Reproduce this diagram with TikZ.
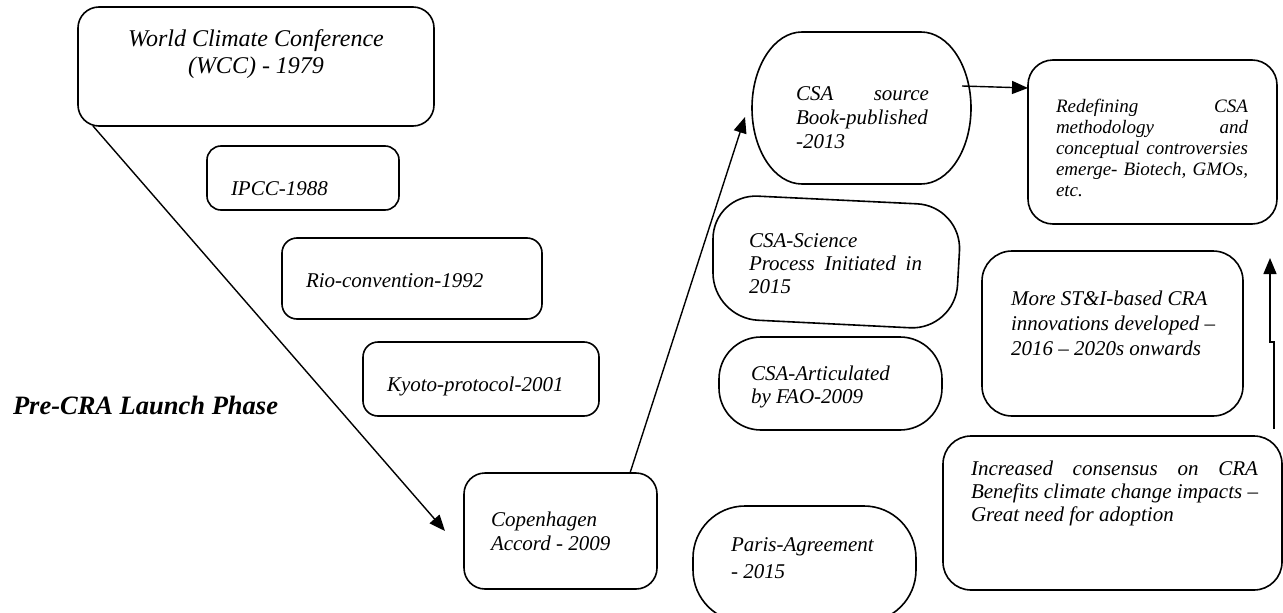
\documentclass[tikz,border=0pt]{standalone}
\usepackage{fontspec}
\setmainfont{Liberation Serif}
\usetikzlibrary{arrows.meta,calc}
\tikzset{
  boxline/.style={draw, line width=1.6pt},
  rbox/.style={boxline, rectangle, inner sep=0pt, outer sep=0pt},
  ghost/.style={rectangle, inner sep=0pt, outer sep=0pt},
  conn/.style={line width=1.4pt, -{Triangle[length=16pt,width=13pt]}},
  txt/.style={inner sep=0pt, outer sep=0pt, anchor=base west,
    font=\itshape\fontsize{21}{23}\selectfont},
}
\begin{document}
\begin{tikzpicture}[x=1pt,y=-1pt]
\useasboundingbox (0,0) rectangle (1283,613);
\clip (0,0) rectangle (1283,613);

% boxes
\node[rbox, minimum width=356pt, minimum height=119pt, rounded corners=21pt] (wcc) at (256,66.5) {};
\node[rbox, minimum width=192pt, minimum height=64pt, rounded corners=14pt] (ipcc) at (303,178) {};
\node[rbox, minimum width=260pt, minimum height=81pt, rounded corners=15pt] (rio) at (412,278.5) {};
\node[rbox, minimum width=236pt, minimum height=74pt, rounded corners=15pt] (kyoto) at (481,379) {};
\node[rbox, minimum width=193pt, minimum height=116pt, rounded corners=21pt] (cop) at (560.5,531) {};
\node[ghost, minimum width=219pt, minimum height=152pt] (src) at (861.5,108) {};
\draw[boxline] (802,32) -- (921,32) .. controls (948.6,32) and (971,66) .. (971,108)
  .. controls (971,150) and (948.6,184) .. (921,184) -- (802,184)
  .. controls (774.4,184) and (752,150) .. (752,108)
  .. controls (752,66) and (774.4,32) .. (802,32) -- cycle;
\node[rbox, minimum width=249pt, minimum height=164pt, rounded corners=25pt] (red) at (1152.5,142) {};
\node[ghost, minimum width=249pt, minimum height=130pt] (sci) at (837,262) {};
\draw[boxline, rounded corners=45pt] (838,200) -- (962,206) -- (955,330) -- (713,318) -- (713,194) -- cycle;
\node[rbox, minimum width=223pt, minimum height=93pt, rounded corners=42pt] (art) at (830.5,383.5) {};
\node[rbox, minimum width=261pt, minimum height=165pt, rounded corners=30pt] (more) at (1112.5,333.5) {};
\node[rbox, minimum width=339pt, minimum height=154pt, rounded corners=28pt] (inc) at (1112.5,513) {};
\node[rbox, minimum width=223pt, minimum height=116pt, rounded corners=52pt] (par) at (804.5,564) {};

% texts (multi-line nodes without text width are anchored at their last baseline)
\node[txt, align=center, anchor=base, font=\itshape\fontsize{24}{27}\selectfont] (twcc) at (256,73) {World Climate Conference\\(WCC) - 1979};
\node[txt] (tipcc) at (231,195) {IPCC-1988};
\node[txt] (trio) at (306,287) {Rio-convention-1992};
\node[txt] (tkyoto) at (387,391) {Kyoto-protocol-2001};
\node[txt, align=left, font=\itshape\fontsize{21}{24}\selectfont] (tcop) at (491,550) {Copenhagen\\Accord - 2009};
\node[txt, text width=133pt, align=justify, font=\itshape\fontsize{21}{24}\selectfont] (tsrc) at (796,100) {CSA source\linebreak Book-published\linebreak -2013};
\node[txt, text width=192pt, align=justify, font=\itshape\fontsize{19}{21}\selectfont] (tred) at (1056,112) {Redefining CSA\linebreak methodology and\linebreak conceptual controversies\linebreak emerge- Biotech, GMOs,\linebreak etc.};
\node[txt, text width=173pt, align=justify] (tsci) at (749,247) {CSA-Science\linebreak Process Initiated in\linebreak 2015};
\node[txt, align=left] (tart) at (751,403) {CSA-Articulated\\by FAO-2009};
\node[txt, align=left, font=\itshape\fontsize{21}{25}\selectfont] (tmore) at (1011,355) {More ST\&I-based CRA\\innovations developed --\\2016 -- 2020s onwards};
\node[txt, text width=287pt, align=justify] (tinc) at (971,475) {Increased consensus on CRA\linebreak Benefits climate change impacts --\linebreak Great need for adoption};
\node[txt, align=left, font=\itshape\fontsize{21}{27}\selectfont] (tpar) at (731,578) {Paris-Agreement\\- 2015};
\node[txt, font=\bfseries\itshape\fontsize{26.5}{30}\selectfont] (tpre) at (13,414) {Pre-CRA Launch Phase};

% connectors
\draw[conn] ($(wcc.south west)+(15,0)$) -- ($(cop.west)+(-19,0)$);
\draw[conn] ($(cop.north)+(69.5,0)$) -- ($(src.west)+(-7,9)$);
\draw[conn] ($(src.east)+(-9,-22)$) -- ($(red.west)+(0,-54)$);
\draw[conn] ($(inc.north east)+(-8,-7)$) -- ++(0,-87) -- ++(-4,0) -- ($(red.south east)+(-7,34)$);
\end{tikzpicture}
\end{document}
